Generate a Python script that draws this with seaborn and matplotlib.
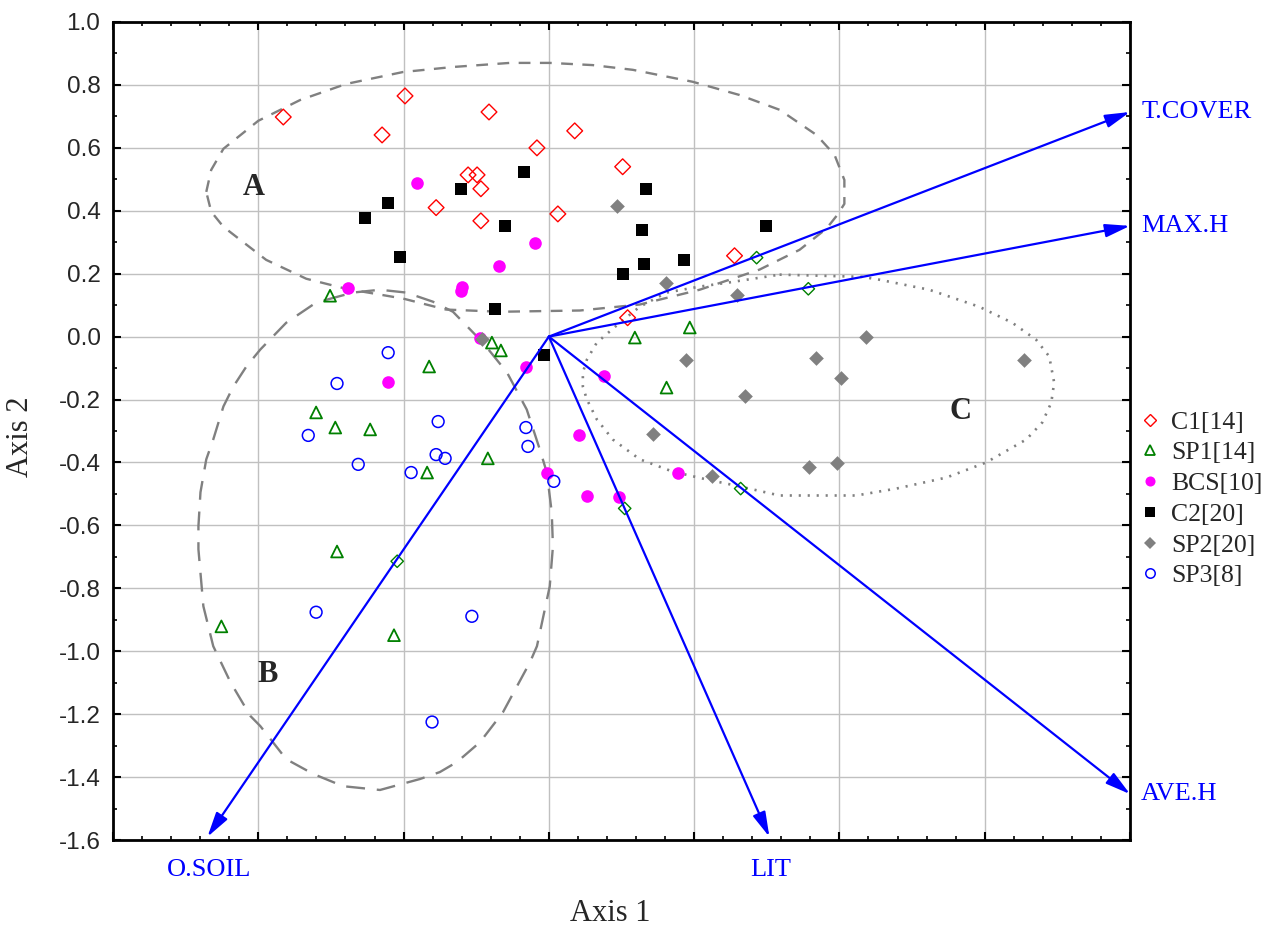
import numpy as np
import pandas as pd
import matplotlib
matplotlib.use("Agg")
import matplotlib.pyplot as plt
from matplotlib.lines import Line2D
from matplotlib.ticker import MultipleLocator, FormatStrFormatter
import seaborn as sns

# ---------------- data (ordination scores) ----------------
c1_x = [-0.914, -0.495, -0.574, -0.388, -0.206, 0.089, -0.041, -0.278, -0.247, -0.234, -0.234, 0.031, 0.254, 0.639, 0.271]
c1_y = [0.698, 0.765, 0.641, 0.410, 0.714, 0.654, 0.600, 0.514, 0.514, 0.470, 0.368, 0.390, 0.540, 0.257, 0.060]

sp1_x = [-0.753, -0.412, -0.801, -0.735, -0.615, -0.419, -0.729, -1.127, -0.533, -0.196, -0.165, 0.296, 0.485, 0.405, -0.210]
sp1_y = [0.130, -0.095, -0.241, -0.289, -0.295, -0.432, -0.683, -0.921, -0.949, -0.019, -0.044, -0.003, 0.029, -0.162, -0.387]

sp1d_x = [0.715, 0.893, 0.261, 0.660, -0.522]
sp1d_y = [0.251, 0.152, -0.546, -0.483, -0.714]

bcs_x = [-0.454, -0.691, -0.299, -0.302, -0.048, -0.172, -0.553, -0.237, -0.079, 0.189, 0.103, -0.007, 0.131, 0.241, 0.443]
bcs_y = [0.489, 0.156, 0.159, 0.146, 0.298, 0.225, -0.143, -0.003, -0.098, -0.124, -0.314, -0.432, -0.508, -0.511, -0.432]

c2_x = [-0.553, -0.632, -0.512, -0.086, -0.302, 0.333, -0.151, 0.320, 0.326, 0.464, 0.746, 0.254, -0.186, -0.017]
c2_y = [0.425, 0.378, 0.254, 0.524, 0.470, 0.470, 0.352, 0.340, 0.232, 0.244, 0.352, 0.200, 0.089, -0.060]

sp2_x = [0.234, 0.402, 0.646, -0.230, 0.471, 0.674, 0.357, 0.560, 1.093, 0.921, 1.007, 1.636, 0.897, 0.993]
sp2_y = [0.416, 0.171, 0.133, -0.006, -0.073, -0.190, -0.311, -0.444, 0.000, -0.067, -0.130, -0.073, -0.416, -0.403]

sp3_x = [-0.553, -0.729, -0.381, -0.828, -0.388, -0.357, -0.656, -0.474, -0.079, -0.072, 0.017, -0.801, -0.402, -0.265]
sp3_y = [-0.051, -0.149, -0.270, -0.314, -0.375, -0.387, -0.406, -0.432, -0.289, -0.349, -0.460, -0.876, -1.225, -0.889]

group_labels = ["C1[14]", "SP1[14]", "BCS[10]", "C2[20]", "SP2[20]", "SP3[8]"]

# environmental vectors (arrow tips)
vec_names = ["T.COVER", "MAX.H", "AVE.H", "LIT", "O.SOIL"]
vec_x = [2.000, 2.000, 2.000, 0.759, -1.175]
vec_y = [0.714, 0.352, -1.454, -1.590, -1.590]

# group envelopes
env_A_x = [-1.179, -1.162, -1.120, -1.000, -0.856, -0.698, -0.502, -0.330, -0.134, 0.003, 0.151, 0.289, 0.495, 0.656, 0.794, 0.921, 0.983, 1.017, 1.017, 0.993, 0.955, 0.863, 0.725, 0.519, 0.313, 0.107, -0.168, -0.354, -0.502, -0.698, -0.835, -0.973, -1.120, -1.162]
env_A_y = [0.460, 0.530, 0.597, 0.686, 0.752, 0.803, 0.841, 0.857, 0.870, 0.870, 0.863, 0.848, 0.810, 0.768, 0.721, 0.641, 0.578, 0.498, 0.422, 0.387, 0.343, 0.276, 0.213, 0.149, 0.102, 0.083, 0.079, 0.086, 0.121, 0.152, 0.184, 0.244, 0.349, 0.397]

env_B_x = [-0.766, -0.674, -0.581, -0.491, -0.399, -0.330, -0.227, -0.144, -0.076, -0.031, -0.007, 0.010, 0.014, 0.003, -0.041, -0.065, -0.158, -0.237, -0.316, -0.375, -0.443, -0.581, -0.708, -0.811, -0.904, -0.993, -1.027, -1.096, -1.155, -1.189, -1.206, -1.206, -1.199, -1.179, -1.155, -1.120, -1.086, -1.041, -0.993, -0.904, -0.811]
env_B_y = [0.117, 0.140, 0.149, 0.140, 0.111, 0.079, -0.019, -0.114, -0.232, -0.359, -0.432, -0.559, -0.667, -0.794, -0.984, -1.035, -1.194, -1.289, -1.352, -1.384, -1.406, -1.441, -1.429, -1.390, -1.343, -1.238, -1.206, -1.098, -0.984, -0.857, -0.676, -0.603, -0.495, -0.390, -0.327, -0.222, -0.159, -0.095, -0.041, 0.044, 0.102]

env_C_x = [0.794, 1.079, 1.137, 1.309, 1.481, 1.595, 1.677, 1.722, 1.739, 1.729, 1.698, 1.643, 1.505, 1.368, 1.196, 1.058, 0.794, 0.656, 0.543, 0.426, 0.313, 0.220, 0.165, 0.131, 0.117, 0.117, 0.131, 0.165, 0.244, 0.313, 0.405, 0.519, 0.612]
env_C_y = [0.197, 0.190, 0.181, 0.149, 0.095, 0.044, -0.010, -0.063, -0.146, -0.210, -0.273, -0.327, -0.400, -0.448, -0.483, -0.505, -0.505, -0.476, -0.454, -0.429, -0.390, -0.327, -0.263, -0.200, -0.159, -0.114, -0.073, -0.019, 0.044, 0.095, 0.140, 0.159, 0.171]

env_labels = ["A", "B", "C"]
env_label_x = [-1.014, -0.969, 1.416]
env_label_y = [0.473, -1.073, -0.238]

# ---------------- styling ----------------
sns.set_theme(style="white")
plt.rcParams['font.family'] = ['Liberation Serif', 'DejaVu Serif']
plt.rcParams['axes.unicode_minus'] = False

W, H = 1279, 930
fig = plt.figure(figsize=(W / 100, H / 100), dpi=100)
ax = fig.add_axes([113 / W, 1 - 840 / H, (1130 - 113) / W, (840 - 22) / H])

series = [
    ("C1[14]", c1_x, c1_y, dict(marker="D", facecolors="none", edgecolors="#ff0000", s=64, linewidths=1.0), True),
    ("SP1[14]", sp1_x, sp1_y, dict(marker="^", facecolors="none", edgecolors="#008000", s=72, linewidths=1.3), True),
    ("SP1d", sp1d_x, sp1d_y, dict(marker="D", facecolors="none", edgecolors="#008000", s=40, linewidths=1.0), False),
    ("BCS[10]", bcs_x, bcs_y, dict(marker="o", color="#ff00ff", s=82, linewidths=0), True),
    ("C2[20]", c2_x, c2_y, dict(marker="s", color="#000000", s=72, linewidths=0), True),
    ("SP2[20]", sp2_x, sp2_y, dict(marker="D", color="#808080", s=56, linewidths=0), True),
    ("SP3[8]", sp3_x, sp3_y, dict(marker="o", facecolors="none", edgecolors="#0000ff", s=72, linewidths=1.1), True),
]

frames = []
for name, xs, ys, _, _ in series:
    frames.append(pd.DataFrame({"x": xs, "y": ys, "group": name}))
df = pd.concat(frames, ignore_index=True)

for name, _, _, kw, _ in series:
    sub = df[df["group"] == name]
    sns.scatterplot(data=sub, x="x", y="y", ax=ax, legend=False, zorder=4, **kw)

# envelopes
env_styles = [
    (env_A_x, env_A_y, dict(color="#808080", lw=1.7, ls=(0, (5, 4)))),
    (env_B_x, env_B_y, dict(color="#808080", lw=1.7, ls=(0, (8, 5)))),
    (env_C_x, env_C_y, dict(color="#808080", lw=1.9, ls=(0, (0.8, 2.6)))),
]
for ex, ey, kw in env_styles:
    ax.plot(list(ex) + [ex[0]], list(ey) + [ey[0]], zorder=3, **kw)

for lab, lx, ly in zip(env_labels, env_label_x, env_label_y):
    ax.text(lx, ly, lab, fontsize=22, fontweight="bold", ha="center", va="center", zorder=5)

# vectors
for name, vx, vy in zip(vec_names, vec_x, vec_y):
    ax.annotate("", xy=(vx, vy), xytext=(0, 0), xycoords="data", textcoords="data",
                arrowprops=dict(arrowstyle="-|>,head_length=0.75,head_width=0.2", color="#0000ff",
                                lw=1.6, shrinkA=0, shrinkB=0, mutation_scale=20),
                annotation_clip=False, zorder=6)
    if vy < -1.55:
        ax.annotate(name, xy=(vx, vy), xytext=(1, -24), textcoords="offset points",
                    ha="center", va="center", color="#0000ff", fontsize=19, annotation_clip=False)
    else:
        ax.annotate(name, xy=(vx, vy), xytext=(8, 0), textcoords="offset points",
                    ha="left", va="center", color="#0000ff", fontsize=19, annotation_clip=False)

# axes
ax.set_xlim(-1.5, 2.0)
ax.set_ylim(-1.6, 1.0)
ax.xaxis.set_major_locator(MultipleLocator(0.5))
ax.xaxis.set_minor_locator(MultipleLocator(0.1))
ax.yaxis.set_major_locator(MultipleLocator(0.2))
ax.yaxis.set_minor_locator(MultipleLocator(0.1))
ax.yaxis.set_major_formatter(FormatStrFormatter("%.1f"))
ax.grid(which="major", color="#c0c0c0", lw=1.0, zorder=0)
ax.set_axisbelow(True)
ax.tick_params(which="both", direction="in", top=True, right=True, bottom=True, left=True,
               labelbottom=False, color="black")
ax.tick_params(which="major", length=6, width=1.5, pad=9)
ax.tick_params(which="minor", length=3, width=1.2)
for lbl in ax.get_yticklabels():
    lbl.set_fontfamily("Liberation Sans")
    lbl.set_fontsize(17.5)
for sp in ax.spines.values():
    sp.set_color("black")
    sp.set_linewidth(2.0)
ax.set_xlabel("")
ax.set_ylabel("")

fig.text(610 / W, 1 - 913 / H, "Axis 1", ha="center", va="center", fontsize=22)
fig.text(20 / W, 1 - 437 / H, "Axis 2", ha="center", va="center", fontsize=22, rotation=90)

# legend
handles = []
labels = []
for name, _, _, kw, show in series:
    if not show:
        continue
    if "color" in kw:
        fc = ec = kw["color"]
    else:
        fc, ec = "none", kw["edgecolors"]
    handles.append(Line2D([], [], ls="none", marker=kw["marker"], markerfacecolor=fc,
                          markeredgecolor=ec, markersize=np.sqrt(kw["s"]) * 0.8,
                          markeredgewidth=max(kw["linewidths"], 0)))
    labels.append(name)
fig.legend(handles, labels, loc="center left", bbox_to_anchor=(1140 / W, 1 - 499 / H),
           frameon=False, fontsize=18.5, handlelength=0.8, handletextpad=0.4,
           labelspacing=0.3, borderpad=0, borderaxespad=0)

fig.savefig("out.png", dpi=100)
